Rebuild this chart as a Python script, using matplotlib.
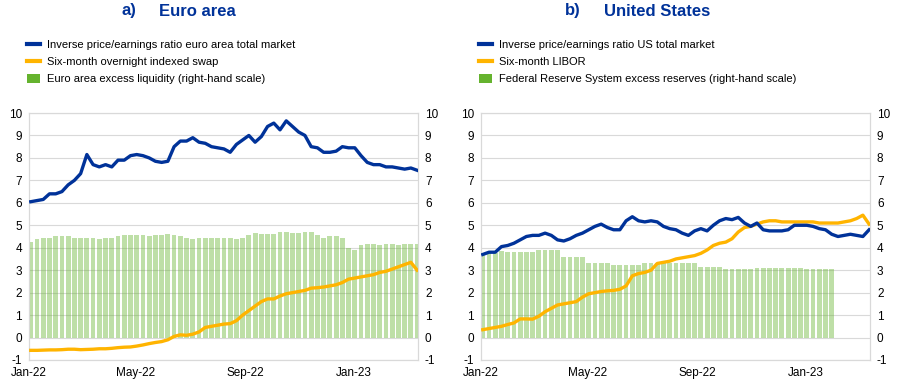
import matplotlib
matplotlib.use("Agg")
import matplotlib.pyplot as plt
import matplotlib.dates as mdates
from matplotlib.lines import Line2D
from matplotlib.patches import Patch
import pandas as pd

plt.rcParams.update({
    'font.family': ['Liberation Sans', 'DejaVu Sans'],
    'font.size': 8,
    'xtick.labelsize': 8.5, 'ytick.labelsize': 8.5,
    'axes.unicode_minus': False,
})

BLUE = "#003299"
ORANGE = "#ffb400"
GREEN = "#65b32e"
GRID = "#d9d9d9"

# weekly observations, Jan-22 to mid-Mar-23
weeks = pd.date_range("2022-01-03", periods=63, freq="7D")

ea_pe = [6.05, 6.1, 6.15, 6.4, 6.4, 6.5, 6.8, 7.0, 7.3, 8.15,
         7.7, 7.6, 7.7, 7.6, 7.9, 7.9, 8.1, 8.15, 8.1, 8.0,
         7.85, 7.8, 7.85, 8.5, 8.75, 8.75, 8.9, 8.7, 8.65, 8.5,
         8.45, 8.4, 8.25, 8.6, 8.8, 9.0, 8.7, 8.95, 9.4, 9.55,
         9.25, 9.65, 9.4, 9.15, 9.0, 8.5, 8.45, 8.25, 8.25, 8.3,
         8.5, 8.45, 8.45, 8.1, 7.8, 7.7, 7.7, 7.6, 7.6, 7.55,
         7.5, 7.55, 7.45]
ea_ois = [-0.57, -0.57, -0.56, -0.55, -0.55, -0.54, -0.52, -0.52, -0.54, -0.53,
          -0.52, -0.5, -0.5, -0.48, -0.45, -0.43, -0.42, -0.38, -0.33, -0.27,
          -0.22, -0.18, -0.1, 0.05, 0.12, 0.1, 0.15, 0.25, 0.45, 0.5,
          0.55, 0.6, 0.62, 0.75, 1.0, 1.2, 1.4, 1.6, 1.72, 1.72,
          1.85, 1.95, 2.0, 2.05, 2.1, 2.2, 2.22, 2.25, 2.3, 2.35,
          2.45, 2.6, 2.65, 2.7, 2.75, 2.8, 2.9, 2.95, 3.05, 3.15,
          3.25, 3.35, 3.0]
ea_liq = [4.25, 4.4, 4.45, 4.45, 4.5, 4.5, 4.5, 4.45, 4.45, 4.45,
          4.45, 4.4, 4.45, 4.45, 4.5, 4.55, 4.55, 4.55, 4.55, 4.5,
          4.55, 4.55, 4.6, 4.55, 4.5, 4.45, 4.4, 4.45, 4.45, 4.45,
          4.45, 4.45, 4.45, 4.4, 4.45, 4.55, 4.65, 4.6, 4.6, 4.6,
          4.7, 4.7, 4.65, 4.65, 4.7, 4.7, 4.55, 4.45, 4.5, 4.5,
          4.45, 4.0, 3.9, 4.1, 4.15, 4.15, 4.1, 4.15, 4.15, 4.1,
          4.15, 4.15, 4.15]

us_pe = [3.7, 3.8, 3.8, 4.05, 4.1, 4.2, 4.35, 4.5, 4.55, 4.55,
         4.65, 4.55, 4.35, 4.3, 4.4, 4.55, 4.65, 4.8, 4.95, 5.05,
         4.9, 4.8, 4.8, 5.2, 5.38, 5.2, 5.15, 5.2, 5.15, 4.95,
         4.85, 4.8, 4.65, 4.55, 4.75, 4.85, 4.75, 5.0, 5.2, 5.3,
         5.25, 5.35, 5.1, 4.95, 5.1, 4.8, 4.75, 4.75, 4.75, 4.8,
         5.0, 5.0, 5.0, 4.95, 4.85, 4.8, 4.6, 4.5, 4.55, 4.6,
         4.55, 4.5, 4.8]
us_libor = [0.35, 0.4, 0.45, 0.5, 0.58, 0.65, 0.83, 0.83, 0.82, 0.95,
            1.15, 1.3, 1.45, 1.5, 1.55, 1.6, 1.8, 1.95, 2.0, 2.05,
            2.08, 2.1, 2.15, 2.3, 2.75, 2.85, 2.9, 3.0, 3.3, 3.35,
            3.4, 3.5, 3.55, 3.6, 3.65, 3.75, 3.9, 4.1, 4.2, 4.25,
            4.4, 4.7, 4.9, 4.95, 5.05, 5.15, 5.2, 5.2, 5.15, 5.15,
            5.15, 5.15, 5.15, 5.15, 5.1, 5.1, 5.1, 5.1, 5.15, 5.2,
            5.3, 5.45, 5.05]
us_res = [3.75, 3.75, 3.75, 3.85, 3.8, 3.8, 3.8, 3.8, 3.8, 3.88,
          3.88, 3.88, 3.88, 3.6, 3.6, 3.6, 3.6, 3.32, 3.32, 3.32,
          3.32, 3.22, 3.22, 3.22, 3.22, 3.22, 3.3, 3.3, 3.3, 3.3,
          3.3, 3.3, 3.3, 3.3, 3.3, 3.12, 3.12, 3.12, 3.12, 3.05,
          3.05, 3.05, 3.05, 3.05, 3.1, 3.1, 3.1, 3.1, 3.1, 3.1,
          3.1, 3.1, 3.05, 3.05, 3.05, 3.05, 3.05]

panels = [
    dict(letter="a)", title="Euro area", pe=ea_pe, rate=ea_ois, bars=ea_liq,
         labels=["Inverse price/earnings ratio euro area total market",
                 "Six-month overnight indexed swap",
                 "Euro area excess liquidity (right-hand scale)"]),
    dict(letter="b)", title="United States", pe=us_pe, rate=us_libor, bars=us_res,
         labels=["Inverse price/earnings ratio US total market",
                 "Six-month LIBOR",
                 "Federal Reserve System excess reserves (right-hand scale)"]),
]

W, H = 898, 385
fig = plt.figure(figsize=(W / 100, H / 100), dpi=100)

lefts = [29, 481]
letter_x = [122, 565]
title_x = [159, 604]
legend_x = [27, 479]

for i, p in enumerate(panels):
    ax = fig.add_axes([lefts[i] / W, 1 - 360 / H, 389 / W, 247 / H])
    # bars on the right-hand scale, lines on the left-hand scale
    axb = ax.twinx()
    ax.set_zorder(axb.get_zorder() + 1)
    ax.patch.set_visible(False)

    axb.bar(weeks[:len(p["bars"])], p["bars"], width=5.4, color=GREEN,
            alpha=0.42, linewidth=0, zorder=2)
    ax.plot(weeks, p["rate"], color=ORANGE, lw=2.4, zorder=3)
    ax.plot(weeks, p["pe"], color=BLUE, lw=2.4, zorder=4)

    for a in (ax, axb):
        a.set_ylim(-1, 10)
        a.set_yticks(range(-1, 11))
        a.set_xlim(pd.Timestamp("2022-01-01"), pd.Timestamp("2023-03-14"))
        a.tick_params(length=0, pad=5)
        for s in a.spines.values():
            s.set_color(GRID)
            s.set_linewidth(0.8)
    axb.set_axisbelow(True)
    axb.grid(True, color=GRID, lw=0.8, zorder=0)
    ax.xaxis.set_major_locator(mdates.MonthLocator(bymonth=[1, 5, 9]))
    ax.xaxis.set_major_formatter(mdates.DateFormatter("%b-%y"))
    axb.xaxis.set_major_locator(mdates.MonthLocator(bymonth=[1, 5, 9]))

    fig.text(letter_x[i] / W, 1 - 11 / H, p["letter"], color=BLUE,
             fontsize=12, fontweight="bold", va="center")
    fig.text(title_x[i] / W, 1 - 11 / H, p["title"], color=BLUE,
             fontsize=12, fontweight="bold", va="center")

    handles = [Line2D([], [], color=BLUE, lw=3),
               Line2D([], [], color=ORANGE, lw=3),
               Patch(facecolor=GREEN, edgecolor="none")]
    ax.legend(handles, p["labels"], loc="upper left",
              bbox_to_anchor=(legend_x[i] / W, 1 - 40 / H),
              bbox_transform=fig.transFigure, frameon=False,
              fontsize=8, borderaxespad=0, borderpad=0,
              handlelength=1.2, handleheight=0.9, handletextpad=0.6,
              labelspacing=0.58)

fig.savefig("out.png", dpi=100)
